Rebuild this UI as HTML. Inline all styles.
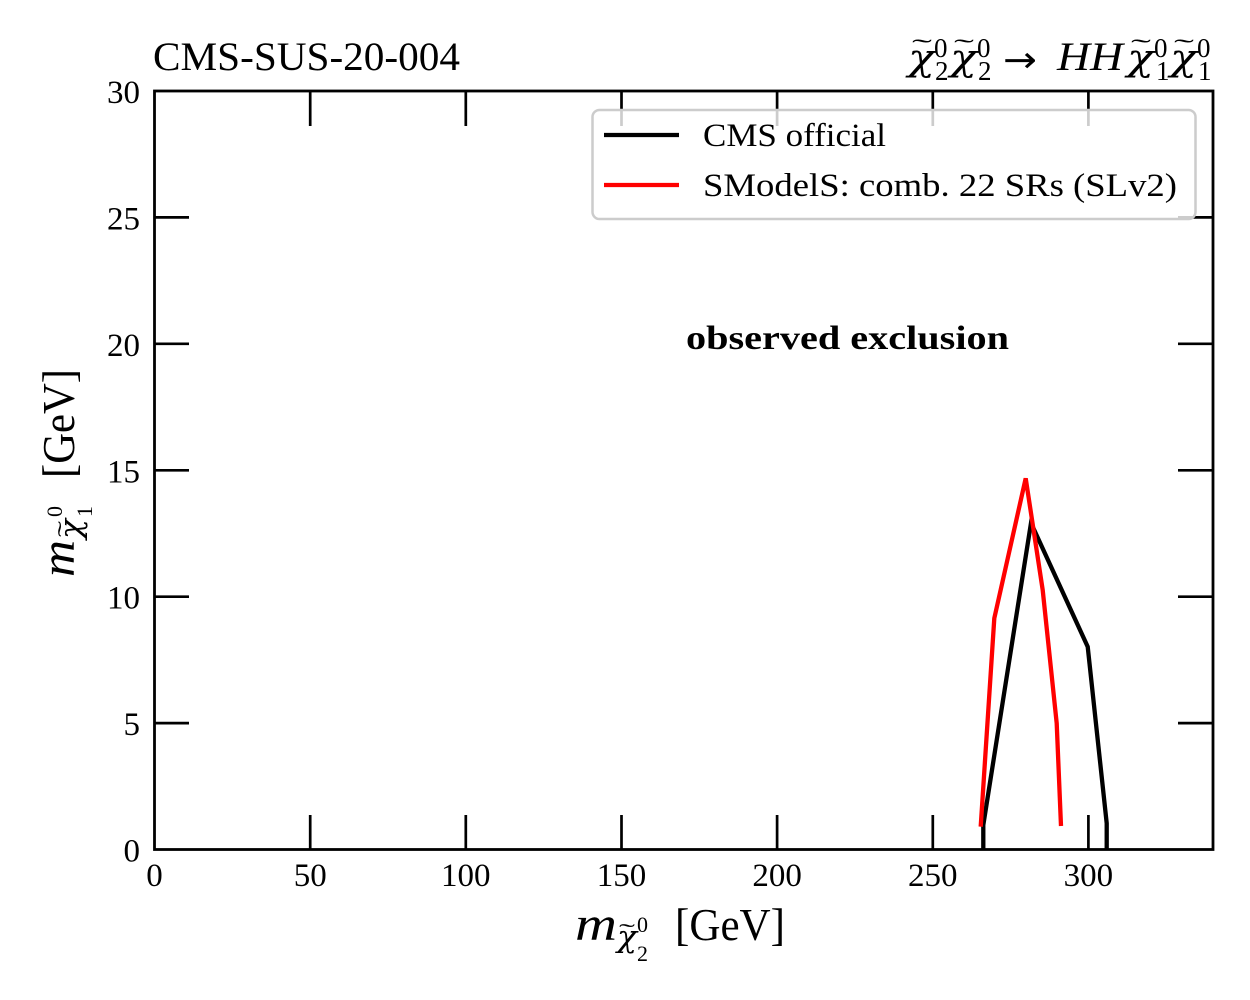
<!DOCTYPE html>
<html>
<head>
<meta charset="utf-8">
<style>
  html, body { margin: 0; padding: 0; background: #ffffff; }
  svg { display: block; }
  text { font-family: "Liberation Serif", "DejaVu Serif", serif; fill: #000; }
  .chi { font-family: "DejaVu Serif", "Liberation Serif", serif; font-style: italic; }
  .arr { font-family: "DejaVu Sans", "Liberation Sans", sans-serif; }
</style>
</head>
<body>
<svg width="1250" height="1000" viewBox="0 0 1250 1000" xmlns="http://www.w3.org/2000/svg">
  <rect x="0" y="0" width="1250" height="1000" fill="#ffffff"/>

  <!-- data lines -->
  <polyline fill="none" stroke="#000000" stroke-width="4.3" stroke-linejoin="miter"
    points="983.3,849.5 983.3,825 1031,523 1087.7,646.7 1106.7,823.3 1106.7,849.5"/>
  <polyline fill="none" stroke="#ff0000" stroke-width="4.3" stroke-linejoin="miter"
    points="980.7,826.7 994.3,618.3 1025.7,478.3 1042.7,590 1056.7,723.3 1061,826"/>

  <!-- ticks -->
  <g stroke="#000" stroke-width="2.7">
    <line x1="310.2" y1="849.5" x2="310.2" y2="815"/>
    <line x1="465.8" y1="849.5" x2="465.8" y2="815"/>
    <line x1="621.5" y1="849.5" x2="621.5" y2="815"/>
    <line x1="777.1" y1="849.5" x2="777.1" y2="815"/>
    <line x1="932.8" y1="849.5" x2="932.8" y2="815"/>
    <line x1="1088.4" y1="849.5" x2="1088.4" y2="815"/>
    <line x1="310.2" y1="91" x2="310.2" y2="126"/>
    <line x1="465.8" y1="91" x2="465.8" y2="126"/>
    <line x1="621.5" y1="91" x2="621.5" y2="126"/>
    <line x1="777.1" y1="91" x2="777.1" y2="126"/>
    <line x1="932.8" y1="91" x2="932.8" y2="126"/>
    <line x1="1088.4" y1="91" x2="1088.4" y2="126"/>
    <line x1="154.5" y1="723.1" x2="189" y2="723.1"/>
    <line x1="154.5" y1="596.7" x2="189" y2="596.7"/>
    <line x1="154.5" y1="470.3" x2="189" y2="470.3"/>
    <line x1="154.5" y1="343.8" x2="189" y2="343.8"/>
    <line x1="154.5" y1="217.4" x2="189" y2="217.4"/>
    <line x1="1213" y1="723.1" x2="1178" y2="723.1"/>
    <line x1="1213" y1="596.7" x2="1178" y2="596.7"/>
    <line x1="1213" y1="470.3" x2="1178" y2="470.3"/>
    <line x1="1213" y1="343.8" x2="1178" y2="343.8"/>
    <line x1="1213" y1="217.4" x2="1178" y2="217.4"/>
  </g>

  <!-- axes frame -->
  <rect x="154.5" y="91" width="1058.5" height="758.5" fill="none" stroke="#000" stroke-width="2.8"/>

  <!-- legend -->
  <rect x="592.5" y="110" width="603" height="109" rx="7" ry="7" fill="#ffffff" fill-opacity="0.8" stroke="#cccccc" stroke-width="2.5"/>
  <line x1="604" y1="135" x2="679" y2="135" stroke="#000" stroke-width="4.3"/>
  <line x1="604" y1="185" x2="679" y2="185" stroke="#ff0000" stroke-width="4.3"/>
  <text x="703" y="146" font-size="33" textLength="183" lengthAdjust="spacingAndGlyphs">CMS official</text>
  <text x="703" y="196" font-size="33" textLength="474" lengthAdjust="spacingAndGlyphs">SModelS: comb. 22 SRs (SLv2)</text>

  <!-- annotation -->
  <text x="686" y="349" font-size="34" font-weight="bold" textLength="323" lengthAdjust="spacingAndGlyphs">observed exclusion</text>

  <!-- y tick labels -->
  <g font-size="33" text-anchor="end">
    <text x="140" y="861.5">0</text>
    <text x="140" y="735.1">5</text>
    <text x="140" y="608.7">10</text>
    <text x="140" y="482.3">15</text>
    <text x="140" y="355.8">20</text>
    <text x="140" y="229.4">25</text>
    <text x="140" y="103">30</text>
  </g>

  <!-- x tick labels -->
  <g font-size="33" text-anchor="middle">
    <text x="154.5" y="886">0</text>
    <text x="310.2" y="886">50</text>
    <text x="465.8" y="886">100</text>
    <text x="621.5" y="886">150</text>
    <text x="777.1" y="886">200</text>
    <text x="932.8" y="886">250</text>
    <text x="1088.4" y="886">300</text>
  </g>

  <!-- left title -->
  <text x="153" y="70" font-size="40" textLength="307" lengthAdjust="spacingAndGlyphs">CMS-SUS-20-004</text>

  <!-- right title -->
  <g>
    <text class="chi" x="908" y="70" font-size="36" textLength="27" lengthAdjust="spacingAndGlyphs">χ</text>
    <text x="912" y="56" font-size="24" textLength="20" lengthAdjust="spacingAndGlyphs">˜</text>
    <text x="934" y="57" font-size="27">0</text>
    <text x="935" y="80" font-size="27">2</text>

    <text class="chi" x="950" y="70" font-size="36" textLength="27" lengthAdjust="spacingAndGlyphs">χ</text>
    <text x="954" y="56" font-size="24" textLength="20" lengthAdjust="spacingAndGlyphs">˜</text>
    <text x="977" y="57" font-size="27">0</text>
    <text x="978" y="80" font-size="27">2</text>

    <text class="arr" x="1003" y="72" font-size="36" textLength="34" lengthAdjust="spacingAndGlyphs">→</text>

    <text x="1057" y="70" font-size="40" font-style="italic" textLength="66" lengthAdjust="spacingAndGlyphs">HH</text>

    <text class="chi" x="1127" y="70" font-size="36" textLength="27" lengthAdjust="spacingAndGlyphs">χ</text>
    <text x="1131" y="56" font-size="24" textLength="20" lengthAdjust="spacingAndGlyphs">˜</text>
    <text x="1154" y="57" font-size="27">0</text>
    <text x="1156" y="80" font-size="27">1</text>

    <text class="chi" x="1170" y="70" font-size="36" textLength="27" lengthAdjust="spacingAndGlyphs">χ</text>
    <text x="1174" y="56" font-size="24" textLength="20" lengthAdjust="spacingAndGlyphs">˜</text>
    <text x="1197" y="57" font-size="27">0</text>
    <text x="1198" y="80" font-size="27">1</text>
  </g>

  <!-- x axis label -->
  <g>
    <text x="575" y="940" font-size="48" font-style="italic" textLength="42" lengthAdjust="spacingAndGlyphs">m</text>
    <text class="chi" x="617" y="947" font-size="30" textLength="20" lengthAdjust="spacingAndGlyphs">χ</text>
    <text x="619" y="939" font-size="22" textLength="16" lengthAdjust="spacingAndGlyphs">˜</text>
    <text x="637" y="932" font-size="22">0</text>
    <text x="637" y="961" font-size="22">2</text>
    <text x="675" y="940" font-size="46" textLength="110" lengthAdjust="spacingAndGlyphs">[GeV]</text>
  </g>

  <!-- y axis label (rotated) -->
  <g transform="translate(74,577) rotate(-90)">
    <text x="0" y="0" font-size="48" font-style="italic" textLength="37" lengthAdjust="spacingAndGlyphs">m</text>
    <text class="chi" x="38" y="7" font-size="30" textLength="20" lengthAdjust="spacingAndGlyphs">χ</text>
    <text x="40" y="-1" font-size="22" textLength="16" lengthAdjust="spacingAndGlyphs">˜</text>
    <text x="60" y="-12" font-size="22">0</text>
    <text x="60" y="18" font-size="22">1</text>
    <text x="99" y="0" font-size="46" textLength="109" lengthAdjust="spacingAndGlyphs">[GeV]</text>
  </g>
</svg>
</body>
</html>
